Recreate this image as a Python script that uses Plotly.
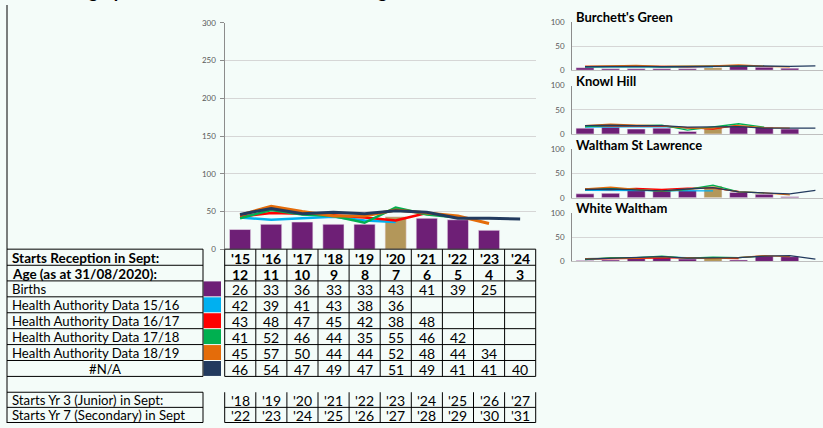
import plotly.graph_objects as go

W, H = 823, 428
BG = "#F4FCF9"
FONT = "Lato"

# ---------------- data ----------------
years = ["'15", "'16", "'17", "'18", "'19", "'20", "'21", "'22", "'23", "'24"]
ages = [12, 11, 10, 9, 8, 7, 6, 5, 4, 3]
births = [26, 33, 36, 33, 33, 43, 41, 39, 25, None]
ha_1516 = [42, 39, 41, 43, 38, 36, None, None, None, None]
ha_1617 = [43, 48, 47, 45, 42, 38, 48, None, None, None]
ha_1718 = [41, 52, 46, 44, 35, 55, 46, 42, None, None]
ha_1819 = [45, 57, 50, 44, 44, 52, 48, 44, 34, None]
na_series = [46, 54, 47, 49, 47, 51, 49, 41, 41, 40]
yr3_starts = ["'18", "'19", "'20", "'21", "'22", "'23", "'24", "'25", "'26", "'27"]
yr7_starts = ["'22", "'23", "'24", "'25", "'26", "'27", "'28", "'29", "'30", "'31"]
row_labels = ["Births", "Health Authority Data 15/16", "Health Authority Data 16/17",
              "Health Authority Data 17/18", "Health Authority Data 18/19", "#N/A"]
highlight_year = "'20"
title_text = "Demographic Data: The Walthams Planning Area"

# small panels
panel_names = ["Burchett's Green", "Knowl Hill", "Waltham St Lawrence", "White Waltham"]
bg_births = [5, 3, 3, 3, 3, 5, 10, 6, 4, None]
bg_1516 = [7, 7, 8, 7, 7, 7, None, None, None, None]
bg_1617 = [8, 8, 9, 8, 7, 8, 9, None, None, None]
bg_1718 = [7, 8, 8, 7, 8, 8, 9, 8, None, None]
bg_1819 = [8, 9, 10, 8, 8, 9, 11, 8, 7, None]
bg_na = [7, 8, 8, 7, 7, 8, 9, 8, 8, 9]

kh_births = [12, 14, 10, 12, 5, 14, 17, 14, 10, None]
kh_1516 = [14, 14, 14, 15, 12, 12, None, None, None, None]
kh_1617 = [16, 16, 16, 16, 13, 10, 18, None, None, None]
kh_1718 = [15, 17, 17, 18, 8, 14, 21, 14, None, None]
kh_1819 = [17, 20, 18, 17, 12, 12, 17, 13, 12, None]
kh_na = [17, 18, 17, 17, 14, 14, 15, 12, 12, 12]

ws_births = [8, 9, 15, 14, 15, 24, 11, 7, 2, None]
ws_1516 = [15, 15, 15, 15, 15, 14, None, None, None, None]
ws_1617 = [18, 17, 19, 17, 20, 20, 13, None, None, None]
ws_1718 = [17, 19, 17, 13, 17, 26, 12, 10, None, None]
ws_1819 = [18, 22, 17, 14, 18, 21, 12, 10, 6, None]
ws_na = [17, 18, 16, 14, 18, 21, 12, 10, 8, 15]

ww_births = [2, 3, 6, 8, 5, 7, 3, 12, 10, None]
ww_1516 = [6, 6, 7, 9, 8, 7, None, None, None, None]
ww_1617 = [5, 6, 7, 8, 8, 7, 6, None, None, None]
ww_1718 = [4, 8, 8, 11, 7, 9, 8, 11, None, None]
ww_1819 = [6, 6, 7, 9, 7, 6, 8, 12, 10, None]
ww_na = [5, 7, 8, 10, 7, 8, 8, 11, 12, 5]

# ---------------- styles ----------------
PURPLE = "#6E1F76"
TAN = "#B3975A"
line_colors = ["#00B0F0", "#FF0000", "#00B050", "#E46C0A", "#223A5E"]
swatch_colors = [PURPLE] + line_colors
main_widths = [2.5, 2.5, 2.5, 3, 3]


def px(x):
    return x / W


def py(y):
    return 1 - y / H


fig = go.Figure()

hi = years.index(highlight_year)
bar_colors = [TAN if i == hi else PURPLE for i in range(len(years))]

# main chart
fig.add_trace(go.Bar(x=years, y=births, marker=dict(color=bar_colors, line=dict(color="#EDE3EE", width=0.6)),
                     width=0.68, xaxis="x", yaxis="y", showlegend=False))
main_series = [ha_1516, ha_1617, ha_1718, ha_1819, na_series]
for s, c, w in zip(main_series, line_colors, main_widths):
    fig.add_trace(go.Scatter(x=years, y=s, mode="lines", line=dict(color=c, width=w),
                             xaxis="x", yaxis="y", showlegend=False, connectgaps=False))

panels = [
    (bg_births, [bg_1516, bg_1617, bg_1718, bg_1819, bg_na]),
    (kh_births, [kh_1516, kh_1617, kh_1718, kh_1819, kh_na]),
    (ws_births, [ws_1516, ws_1617, ws_1718, ws_1819, ws_na]),
    (ww_births, [ww_1516, ww_1617, ww_1718, ww_1819, ww_na]),
]

layout = dict(
    width=W, height=H, margin=dict(l=0, r=0, t=0, b=0),
    paper_bgcolor=BG, plot_bgcolor=BG, bargap=0.32,
    font=dict(family=FONT, color="#000000"),
)

main_x0, main_x1 = 224.5, 535.7
layout["xaxis"] = dict(domain=[px(main_x0), px(main_x1)], range=[-0.5, 9.5], type="category",
                       showticklabels=False, showgrid=False, zeroline=False, showline=False, ticks="")
layout["yaxis"] = dict(domain=[py(250), py(18.3)], range=[0, 300], tickvals=[0, 50, 100, 150, 200, 250, 300],
                       showgrid=True, gridcolor="#D6D6D6", gridwidth=1, zeroline=False,
                       showline=True, linecolor="#8C8C8C", linewidth=1, ticks="outside", ticklen=4,
                       tickcolor="#8C8C8C", tickfont=dict(size=8, color="#595959", family=FONT),
                       ticklabelstandoff=2)

sp_x0 = 572.2
sp_spacing = 25.6
sp_right = (W - (sp_x0 + sp_spacing / 2)) / sp_spacing
for k, (b, ss) in enumerate(panels):
    n = k + 2
    xa, ya = f"x{n}", f"y{n}"
    top = 17.3 + 65.3 * k
    bottom = 66.7 + 65.3 * k
    fig.add_trace(go.Bar(x=years, y=b, marker=dict(color=bar_colors, line=dict(color="#EDE3EE", width=0.5)),
                         width=0.7, xaxis=xa, yaxis=ya, showlegend=False))
    for s, c in zip(ss, line_colors):
        fig.add_trace(go.Scatter(x=years, y=s, mode="lines", line=dict(color=c, width=1.3),
                                 xaxis=xa, yaxis=ya, showlegend=False))
    layout[f"xaxis{n}"] = dict(domain=[px(sp_x0), 1.0], range=[-0.5, sp_right], type="category",
                               showticklabels=False, showgrid=False, zeroline=False,
                               showline=True, linecolor="#BFBFBF", linewidth=1, ticks="", anchor=ya)
    layout[f"yaxis{n}"] = dict(domain=[py(bottom), py(top)], range=[0, 100], tickvals=[0, 50, 100],
                               showgrid=True, gridcolor="#D6D6D6", gridwidth=1, zeroline=False,
                               showline=True, linecolor="#8C8C8C", linewidth=1, ticks="",
                               tickfont=dict(size=8, color="#595959", family=FONT),
                               ticklabelstandoff=5, anchor=xa)

fig.update_layout(**layout)

shapes = []
annotations = []


def hline(y, x0, x1, color="#000000", w=1):
    shapes.append(dict(type="line", xref="paper", yref="paper", x0=px(x0), x1=px(x1), y0=py(y), y1=py(y),
                       line=dict(color=color, width=w)))


def vline(x, y0, y1, color="#000000", w=1):
    shapes.append(dict(type="line", xref="paper", yref="paper", x0=px(x), x1=px(x), y0=py(y0), y1=py(y1),
                       line=dict(color=color, width=w)))


def text(x, y, s, size=14, bold=False, anchor="left", color="#000000"):
    annotations.append(dict(xref="paper", yref="paper", x=px(x), y=py(y), text=(f"<b>{s}</b>" if bold else s),
                            showarrow=False, xanchor=anchor, yanchor="middle",
                            font=dict(size=size, family=FONT, color=color)))


# title (cut off at top edge)
annotations.append(dict(xref="paper", yref="paper", x=px(38), y=py(-1.2), text=f"<b>{title_text}</b>",
                        showarrow=False, xanchor="left", yanchor="bottom",
                        font=dict(size=18, family=FONT, color="#000000")))

# panel titles
for k, name in enumerate(panel_names):
    text(574, 12.3 + 65.3 * k, name, size=13, bold=True)

# table geometry
LX0, LX1 = 7, 203
SW0, SW1 = 203, 221
col_x = [224.7 + 31.1 * i for i in range(11)]
rows_y = [250, 266.5, 282.5, 298.8, 315.1, 331.4, 347.7, 364.0, 380.3]
yr_y = [396.5, 412, 427.5]

vline(LX0, 0, H)
for y in rows_y:
    hline(y, LX0, LX1)
    hline(y, col_x[0], col_x[-1])
vline(LX1, rows_y[0], rows_y[-1])
for x in col_x:
    vline(x, rows_y[0], rows_y[-1])
for i, y in enumerate(yr_y):
    hline(y, LX0, LX1)
    if i > 0:
        hline(y, col_x[0], col_x[-1])
vline(LX1, yr_y[0], yr_y[-1])
for x in col_x:
    vline(x, yr_y[0], yr_y[-1])

# swatches
for i, c in enumerate(swatch_colors):
    y0, y1 = rows_y[2 + i], rows_y[3 + i]
    shapes.append(dict(type="rect", xref="paper", yref="paper", x0=px(SW0 + 0.5), x1=px(SW1), y0=py(y1 - 0.5),
                       y1=py(y0 + 0.5), fillcolor=c, line=dict(width=0), layer="below"))


def mid(a, b):
    return (a + b) / 2


LABEL_SIZE = 13.2
# header rows
text(10, mid(rows_y[0], rows_y[1]) + 0.5, "Starts Reception in Sept:", size=13.5, bold=True)
text(10, mid(rows_y[1], rows_y[2]) + 0.5, "Age (as at 31/08/2020):", size=13.5, bold=True)
for j in range(10):
    cx = mid(col_x[j], col_x[j + 1])
    text(cx, mid(rows_y[0], rows_y[1]) + 1, years[j], bold=True, anchor="center")
    text(cx, mid(rows_y[1], rows_y[2]) + 1, str(ages[j]), bold=True, anchor="center")

all_rows = [births, ha_1516, ha_1617, ha_1718, ha_1819, na_series]
for i, (lab, vals) in enumerate(zip(row_labels, all_rows)):
    ym = mid(rows_y[2 + i], rows_y[3 + i]) + 0.5
    if lab.startswith("#"):
        text(mid(LX0, LX1), ym, lab, size=LABEL_SIZE, anchor="center")
    else:
        text(10, ym, lab, size=LABEL_SIZE)
    for j, v in enumerate(vals):
        if v is not None:
            text(mid(col_x[j], col_x[j + 1]), ym + 0.5, str(v), anchor="center")

text(10, mid(yr_y[0], yr_y[1]) + 0.5, "Starts Yr 3 (Junior) in Sept:", size=LABEL_SIZE)
text(10, mid(yr_y[1], yr_y[2]) + 0.5, "Starts Yr 7 (Secondary) in Sept", size=LABEL_SIZE)
for j in range(10):
    cx = mid(col_x[j], col_x[j + 1])
    text(cx, mid(yr_y[0], yr_y[1]) + 0.5, yr3_starts[j], anchor="center")
    text(cx, mid(yr_y[1], yr_y[2]) + 0.5, yr7_starts[j], anchor="center")

fig.update_layout(shapes=shapes, annotations=annotations)
fig.write_html("out.html", config={"displayModeBar": False},
               post_script="document.body.style.margin='0px';document.body.style.overflow='hidden';")
